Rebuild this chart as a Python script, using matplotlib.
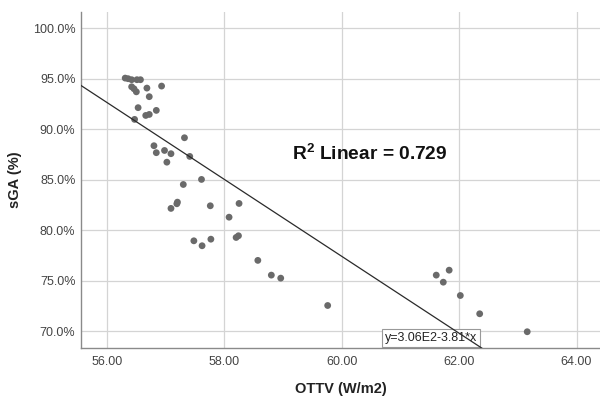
import matplotlib
matplotlib.use("Agg")
import matplotlib.pyplot as plt
from matplotlib.ticker import FuncFormatter, FixedLocator
import numpy as np

plt.rcParams['font.family'] = ['Liberation Sans', 'DejaVu Sans']
plt.rcParams['mathtext.fontset'] = 'custom'
plt.rcParams['mathtext.rm'] = 'Liberation Sans:bold'
plt.rcParams['mathtext.bf'] = 'Liberation Sans:bold'

# Data (OTTV in W/m2, sGA in %)
ottv = [56.31, 56.36, 56.42, 56.51, 56.57,
        56.42, 56.46, 56.50,
        56.68, 56.72, 56.93, 56.53, 56.66, 56.72, 56.84, 56.47,
        57.32, 56.80, 56.84, 56.98, 57.09, 57.02, 57.41, 57.30, 57.61,
        57.09, 57.19, 57.20, 57.76, 58.25, 58.08,
        57.48, 57.62, 57.77, 58.20, 58.24,
        58.57, 58.80, 58.96, 59.76,
        61.61, 61.83, 61.73, 62.02, 62.35, 63.16]
sga = [95.06, 95.00, 94.90, 94.90, 94.90,
       94.20, 94.00, 93.70,
       94.07, 93.22, 94.27, 92.13, 91.36, 91.46, 91.86, 90.97,
       89.15, 88.36, 87.67, 87.89, 87.57, 86.73, 87.30, 84.52, 85.02,
       82.15, 82.61, 82.77, 82.41, 82.64, 81.28,
       78.94, 78.45, 79.10, 79.27, 79.44,
       77.00, 75.54, 75.24, 72.53,
       75.54, 76.03, 74.84, 73.52, 71.71, 69.93]

fit_intercept = 306.0
fit_slope = -3.81
r2_text = "R$^{2}$ Linear = 0.729"
eq_text = "y=3.06E2-3.81*x"

xticks = [56, 58, 60, 62, 64]
yticks = [70, 75, 80, 85, 90, 95, 100]

fig = plt.figure(figsize=(6.0, 3.96), dpi=100)
ax = fig.add_axes([0.135, 0.122, 0.865, 0.8485])

xlim = (55.557, 64.40)
ylim = (68.35, 101.64)
ax.set_xlim(*xlim)
ax.set_ylim(*ylim)

ax.grid(True, color='#d4d4d4', linewidth=0.9, zorder=0)
ax.set_axisbelow(True)

ax.scatter(ottv, sga, s=24, color='#6a6a6a', edgecolors='none', zorder=3)

xs = np.array(xlim)
ax.plot(xs, fit_intercept + fit_slope * xs, color='#2a2a2a', linewidth=0.9, zorder=4)

ax.text(59.146, 86.97, r2_text, fontsize=13.8, fontweight='bold', color='#111111',
        ha='left', va='baseline', zorder=5)

ax.text(61.52, 69.3, eq_text, fontsize=9, color='#222222', ha='center', va='center',
        zorder=2,
        bbox=dict(boxstyle='square,pad=0.25', facecolor='white', edgecolor='#999999', linewidth=0.8))

ax.xaxis.set_major_locator(FixedLocator(xticks))
ax.yaxis.set_major_locator(FixedLocator(yticks))
ax.xaxis.set_major_formatter(FuncFormatter(lambda v, p: f"{v:.2f}"))
ax.yaxis.set_major_formatter(FuncFormatter(lambda v, p: f"{v:.1f}%"))
ax.tick_params(axis='both', length=0, labelsize=9, labelcolor='#444444')
ax.tick_params(axis='x', pad=6)
ax.tick_params(axis='y', pad=4)

for side in ['top', 'right']:
    ax.spines[side].set_visible(False)
for side in ['left', 'bottom']:
    ax.spines[side].set_color('#8a8a8a')
    ax.spines[side].set_linewidth(1.0)

ax.set_xlabel("OTTV (W/m2)", fontsize=10.5, fontweight='bold', color='#222222', labelpad=10)
ax.set_ylabel("sGA (%)", fontsize=10.5, fontweight='bold', color='#222222', labelpad=8)

fig.savefig("out.png", dpi=100)
